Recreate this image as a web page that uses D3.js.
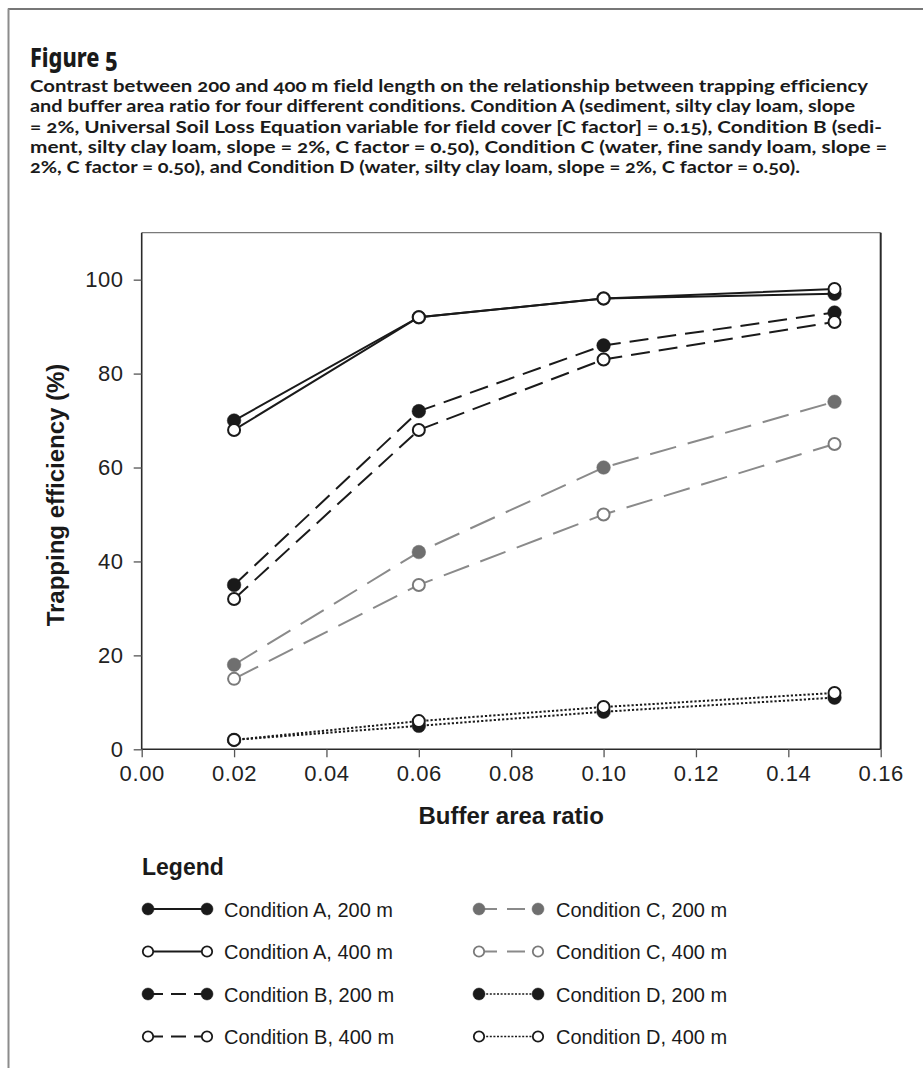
<!DOCTYPE html>
<html>
<head>
<meta charset="utf-8">
<script src="https://cdn.jsdelivr.net/npm/d3@7"></script>
<style>
  html, body { margin: 0; padding: 0; background: #ffffff; }
  svg { display: block; }
</style>
</head>
<body>
<div id="chart"></div>
<script>
// ---------------- DATA ----------------
const xRatio = [0.02, 0.06, 0.10, 0.15];
const condA200 = [70, 92, 96, 97];
const condA400 = [68, 92, 96, 98];
const condB200 = [35, 72, 86, 93];
const condB400 = [32, 68, 83, 91];
const condC200 = [18, 42, 60, 74];
const condC400 = [15, 35, 50, 65];
const condD200 = [2, 5, 8, 11];
const condD400 = [2, 6, 9, 12];
const seriesLabels = [
  "Condition A, 200 m", "Condition A, 400 m",
  "Condition B, 200 m", "Condition B, 400 m",
  "Condition C, 200 m", "Condition C, 400 m",
  "Condition D, 200 m", "Condition D, 400 m"
];
const yTicks = [0, 20, 40, 60, 80, 100];
const xTicks = [0, 0.02, 0.04, 0.06, 0.08, 0.10, 0.12, 0.14, 0.16];
const figureTitle = "Figure 5";
const captionLines = [
  "Contrast between 200 and 400 m field length on the relationship between trapping efficiency",
  "and buffer area ratio for four different conditions. Condition A (sediment, silty clay loam, slope",
  "= 2%, Universal Soil Loss Equation variable for field cover [C factor] = 0.15), Condition B (sedi-",
  "ment, silty clay loam, slope = 2%, C factor = 0.50), Condition C (water, fine sandy loam, slope =",
  "2%, C factor = 0.50), and Condition D (water, silty clay loam, slope = 2%, C factor = 0.50)."
];
const xTitle = "Buffer area ratio";
const yTitle = "Trapping efficiency (%)";
const legendTitle = "Legend";

// ---------------- STYLES ----------------
const seriesValues = [condA200, condA400, condB200, condB400, condC200, condC400, condD200, condD400];
const styles = [
  { line: "#1a1a1a", dash: null,   fill: "#1a1a1a", stroke: "#1a1a1a" },
  { line: "#1a1a1a", dash: null,   fill: "#ffffff", stroke: "#1a1a1a" },
  { line: "#1a1a1a", dash: "19,9", fill: "#1a1a1a", stroke: "#1a1a1a" },
  { line: "#1a1a1a", dash: "19,9", fill: "#ffffff", stroke: "#1a1a1a" },
  { line: "#8a8a8a", dash: "27,12", fill: "#6f6f6f", stroke: "#6f6f6f" },
  { line: "#8a8a8a", dash: "27,12", fill: "#ffffff", stroke: "#7a7a7a" },
  { line: "#1a1a1a", dash: "2.2,2", fill: "#1a1a1a", stroke: "#1a1a1a" },
  { line: "#1a1a1a", dash: "2.2,2", fill: "#ffffff", stroke: "#1a1a1a" }
];
const captionWidths = [838, 825, 852, 857, 770];

const W = 923, H = 1068;
const svg = d3.select("#chart").append("svg")
  .attr("width", W).attr("height", H)
  .attr("viewBox", `0 0 ${W} ${H}`);
svg.append("rect").attr("width", W).attr("height", H).attr("fill", "#ffffff");

// page border (top & left)
svg.append("line").attr("x1", 8).attr("x2", W).attr("y1", 9).attr("y2", 9)
  .attr("stroke", "#4a4a4a").attr("stroke-width", 1.6);
svg.append("line").attr("x1", 8.5).attr("x2", 8.5).attr("y1", 8.5).attr("y2", H)
  .attr("stroke", "#8c8c8c").attr("stroke-width", 2);

// title and caption
svg.append("text").attr("x", 30).attr("y", 67)
  .attr("font-family", "'Noto Sans', 'Open Sans', sans-serif").attr("font-weight", 800).attr("font-size", 27)
  .attr("textLength", 88).attr("lengthAdjust", "spacingAndGlyphs")
  .style("font-feature-settings", "'onum' 1")
  .attr("fill", "#1a1a1a").text(figureTitle);
svg.selectAll("text.cap").data(captionLines).enter().append("text")
  .attr("class", "cap")
  .attr("x", 30).attr("y", (d, i) => 92 + i * 20.3)
  .attr("font-family", "Lato, 'Noto Sans', sans-serif").attr("font-weight", 700).attr("font-size", 16.8)
  .attr("textLength", (d, i) => captionWidths[i]).attr("lengthAdjust", "spacingAndGlyphs")
  .style("font-feature-settings", "'onum' 1, 'liga' 0")
  .style("font-variant-ligatures", "none")
  .attr("fill", "#1a1a1a").text(d => d);

// ---------------- PLOT ----------------
const plot = { left: 141.7, right: 880.7, top: 232.7, bottom: 749.3 };
const x = d3.scaleLinear().domain([0, 0.16]).range([plot.left, plot.right]);
const y = d3.scaleLinear().domain([0, 110]).range([plot.bottom, plot.top]);

const axisFont = "'Liberation Sans', Arial, sans-serif";

// frame top (gray) and right (dark)
svg.append("line").attr("x1", plot.left).attr("x2", plot.right).attr("y1", plot.top).attr("y2", plot.top)
  .attr("stroke", "#7a7a7a").attr("stroke-width", 1.2);
svg.append("line").attr("x1", plot.right).attr("x2", plot.right).attr("y1", plot.top).attr("y2", plot.bottom)
  .attr("stroke", "#2a2a2a").attr("stroke-width", 2);

const yAxis = svg.append("g").attr("transform", `translate(${plot.left},0)`)
  .call(d3.axisLeft(y).tickValues(yTicks).tickSize(8).tickPadding(10).tickFormat(d3.format("d")));
const xAxis = svg.append("g").attr("transform", `translate(0,${plot.bottom})`)
  .call(d3.axisBottom(x).tickValues(xTicks).tickSize(8).tickPadding(8).tickFormat(d3.format(".2f")));
[yAxis, xAxis].forEach(g => {
  g.select(".domain").attr("stroke", "#2a2a2a").attr("stroke-width", 1.6);
  g.selectAll(".tick line").attr("stroke", "#555").attr("stroke-width", 1.3);
  g.selectAll(".tick text").attr("font-family", axisFont).attr("font-size", 22)
    .attr("letter-spacing", 0.6).attr("fill", "#222");
});
yAxis.select(".domain").attr("d", `M0,${plot.bottom}V${plot.top}`);
xAxis.select(".domain").attr("d", `M${plot.left},0H${plot.right}`);

// axis titles
svg.append("text")
  .attr("transform", `translate(64,${(plot.top + plot.bottom) / 2 + 4}) rotate(-90)`)
  .attr("text-anchor", "middle")
  .attr("font-family", axisFont).attr("font-weight", 700).attr("font-size", 24)
  .attr("fill", "#1a1a1a").text(yTitle);
svg.append("text")
  .attr("x", (plot.left + plot.right) / 2).attr("y", 824)
  .attr("text-anchor", "middle")
  .attr("font-family", axisFont).attr("font-weight", 700).attr("font-size", 24)
  .attr("fill", "#1a1a1a").text(xTitle);

// lines
const lineGen = d3.line().x((d, i) => x(xRatio[i])).y(d => y(d));
seriesValues.forEach((vals, k) => {
  const s = styles[k];
  svg.append("path").datum(vals)
    .attr("d", lineGen)
    .attr("fill", "none")
    .attr("stroke", s.line)
    .attr("stroke-width", 2)
    .attr("stroke-dasharray", s.dash);
});
// markers: 200 m first, then 400 m on top
const order = [0, 2, 4, 6, 1, 3, 5, 7];
order.forEach(k => {
  const s = styles[k];
  svg.append("g").selectAll("circle").data(seriesValues[k]).enter().append("circle")
    .attr("cx", (d, i) => x(xRatio[i]))
    .attr("cy", d => y(d))
    .attr("r", s.fill === "#ffffff" ? 6 : 6.8)
    .attr("fill", s.fill)
    .attr("stroke", s.stroke)
    .attr("stroke-width", s.fill === "#ffffff" ? 2 : 0.5);
});

// ---------------- LEGEND ----------------
svg.append("text").attr("x", 142).attr("y", 875)
  .attr("font-family", axisFont).attr("font-weight", 700).attr("font-size", 23)
  .attr("fill", "#1a1a1a").text(legendTitle);
const legCols = [{ x1: 148, x2: 207, tx: 224 }, { x1: 479, x2: 538, tx: 556 }];
const legRowY = [909, 951.5, 994, 1036.5];
seriesLabels.forEach((lab, k) => {
  const col = legCols[Math.floor(k / 4)];
  const cy = legRowY[k % 4];
  const s = styles[k];
  const g = svg.append("g");
  g.append("line").attr("x1", col.x1).attr("x2", col.x2).attr("y1", cy).attr("y2", cy)
    .attr("stroke", s.line).attr("stroke-width", k >= 6 ? 1.6 : 2)
    .attr("stroke-dasharray", k >= 6 ? "2,1.6" : (s.dash ? (k < 4 ? "15,8" : "18,10") : null));
  [col.x1, col.x2].forEach(cx => {
    g.append("circle").attr("cx", cx).attr("cy", cy)
      .attr("r", s.fill === "#ffffff" ? 5.2 : 6)
      .attr("fill", s.fill).attr("stroke", s.stroke)
      .attr("stroke-width", s.fill === "#ffffff" ? 1.8 : 0.5);
  });
  g.append("text").attr("x", col.tx).attr("y", cy + 7.5)
    .attr("font-family", axisFont).attr("font-size", 20).attr("fill", "#1a1a1a").text(lab);
});
</script>
</body>
</html>
